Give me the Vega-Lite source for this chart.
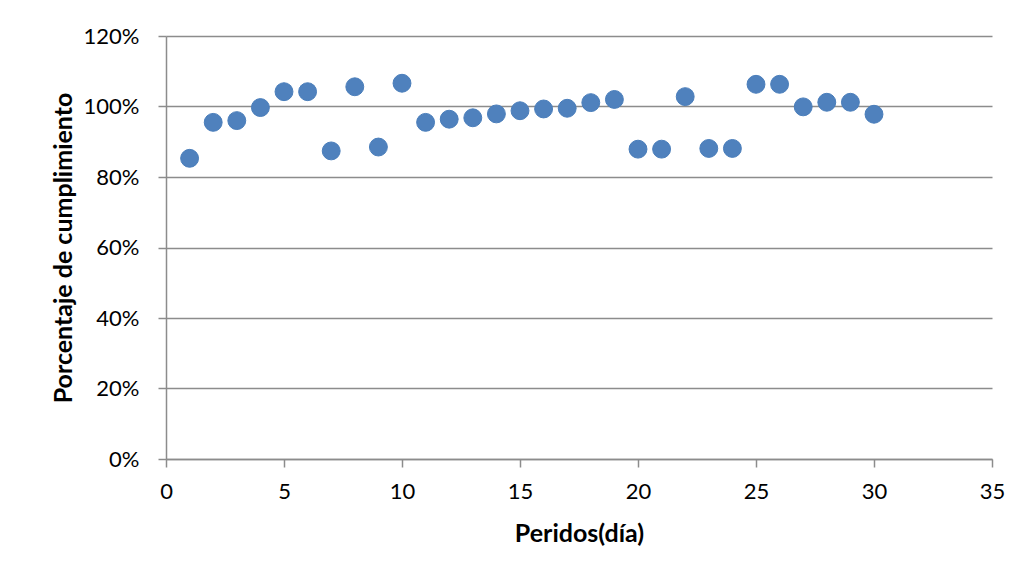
{
  "$schema": "https://vega.github.io/schema/vega-lite/v6.json",
  "width": 826,
  "height": 423,
  "autosize": {"type": "none"},
  "padding": {"left": 166, "top": 36, "right": 28, "bottom": 120},
  "background": "white",
  "config": {
    "view": {"stroke": null},
    "font": "Lato"
  },
  "data": {
    "values": [
      {"dia": 1, "pct": 0.853},
      {"dia": 2, "pct": 0.955},
      {"dia": 3, "pct": 0.960},
      {"dia": 4, "pct": 0.997},
      {"dia": 5, "pct": 1.042},
      {"dia": 6, "pct": 1.042},
      {"dia": 7, "pct": 0.874},
      {"dia": 8, "pct": 1.056},
      {"dia": 9, "pct": 0.885},
      {"dia": 10, "pct": 1.066},
      {"dia": 11, "pct": 0.955},
      {"dia": 12, "pct": 0.964},
      {"dia": 13, "pct": 0.968},
      {"dia": 14, "pct": 0.979},
      {"dia": 15, "pct": 0.988},
      {"dia": 16, "pct": 0.993},
      {"dia": 17, "pct": 0.995},
      {"dia": 18, "pct": 1.011},
      {"dia": 19, "pct": 1.020},
      {"dia": 20, "pct": 0.879},
      {"dia": 21, "pct": 0.879},
      {"dia": 22, "pct": 1.028},
      {"dia": 23, "pct": 0.881},
      {"dia": 24, "pct": 0.881},
      {"dia": 25, "pct": 1.063},
      {"dia": 26, "pct": 1.063},
      {"dia": 27, "pct": 0.999},
      {"dia": 28, "pct": 1.012},
      {"dia": 29, "pct": 1.012},
      {"dia": 30, "pct": 0.978}
    ]
  },
  "mark": {"type": "point", "filled": true, "shape": "circle", "size": 320, "color": "#4F81BD", "opacity": 1, "stroke": "#4A7EBB", "strokeWidth": 1},
  "encoding": {
    "x": {
      "field": "dia",
      "type": "quantitative",
      "scale": {"domain": [0, 35], "nice": false, "zero": true},
      "axis": {
        "title": "Peridos(día)",
        "values": [0, 5, 10, 15, 20, 25, 30, 35],
        "grid": false,
        "labelFlush": false,
        "labelOverlap": false,
        "domainColor": "#8c8c8c",
        "domainWidth": 1.5,
        "tickColor": "#8c8c8c",
        "tickWidth": 1.5,
        "tickSize": 8,
        "labelFont": "Lato",
        "labelFontSize": 22,
        "labelColor": "#000000",
        "labelPadding": 14,
        "titleFont": "Lato",
        "titleFontSize": 25,
        "titleFontWeight": "bold",
        "titleColor": "#000000",
        "titlePadding": 19
      }
    },
    "y": {
      "field": "pct",
      "type": "quantitative",
      "scale": {"domain": [0, 1.2], "nice": false},
      "axis": {
        "title": "Porcentaje de cumplimiento",
        "values": [0, 0.2, 0.4, 0.6, 0.8, 1.0, 1.2],
        "format": ".0%",
        "grid": true,
        "labelFlush": false,
        "labelOverlap": false,
        "gridColor": "#8c8c8c",
        "gridWidth": 1.5,
        "domainColor": "#8c8c8c",
        "domainWidth": 1.5,
        "tickColor": "#8c8c8c",
        "tickWidth": 1.5,
        "tickSize": 8,
        "labelFont": "Lato",
        "labelFontSize": 22,
        "labelColor": "#000000",
        "labelPadding": 19,
        "titleFont": "Lato",
        "titleFontSize": 25,
        "titleFontWeight": "bold",
        "titleColor": "#000000",
        "titlePadding": 7
      }
    }
  }
}
